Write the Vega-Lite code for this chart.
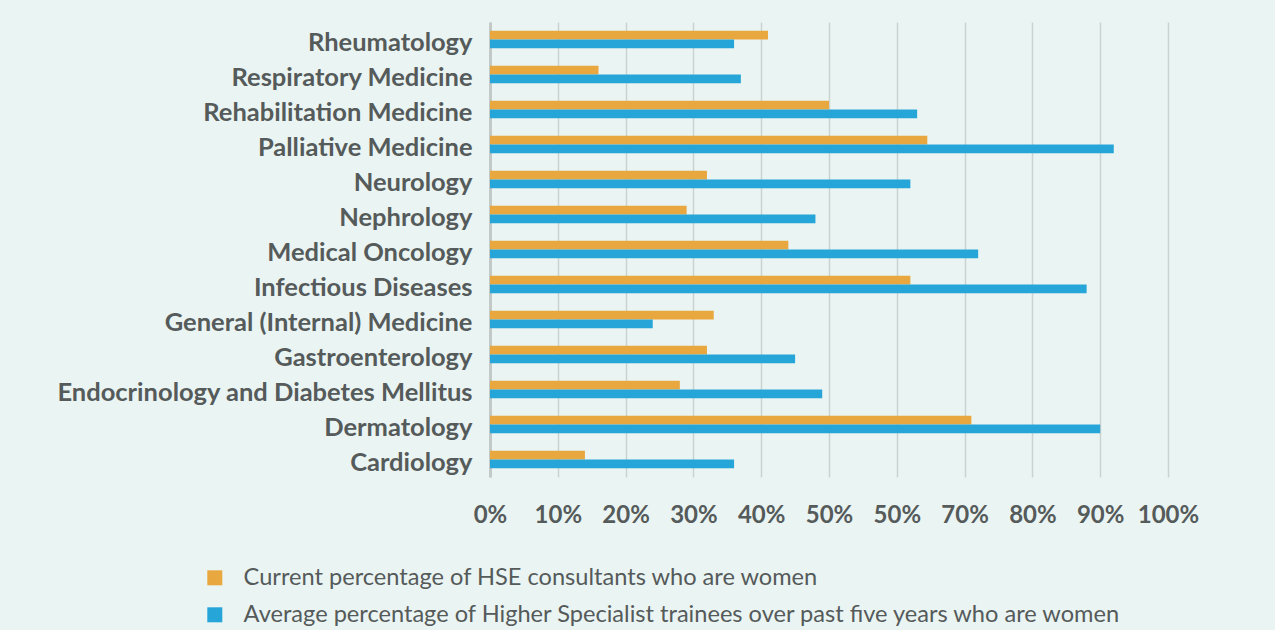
{
  "$schema": "https://vega.github.io/schema/vega-lite/v6.json",
  "width": 678,
  "height": 455,
  "autosize": {"type": "none"},
  "padding": {"left": 490, "top": 22, "right": 107, "bottom": 153},
  "background": "#EAF4F2",
  "config": {
    "view": {"stroke": null},
    "font": "Lato"
  },
  "data": {
    "values": [
      {"specialty": "Rheumatology", "series": "Current percentage of HSE consultants who are women", "value": 41},
      {"specialty": "Rheumatology", "series": "Average percentage of Higher Specialist trainees over past five years who are women", "value": 36},
      {"specialty": "Respiratory Medicine", "series": "Current percentage of HSE consultants who are women", "value": 16},
      {"specialty": "Respiratory Medicine", "series": "Average percentage of Higher Specialist trainees over past five years who are women", "value": 37},
      {"specialty": "Rehabilitation Medicine", "series": "Current percentage of HSE consultants who are women", "value": 50},
      {"specialty": "Rehabilitation Medicine", "series": "Average percentage of Higher Specialist trainees over past five years who are women", "value": 63},
      {"specialty": "Palliative Medicine", "series": "Current percentage of HSE consultants who are women", "value": 64.5},
      {"specialty": "Palliative Medicine", "series": "Average percentage of Higher Specialist trainees over past five years who are women", "value": 92},
      {"specialty": "Neurology", "series": "Current percentage of HSE consultants who are women", "value": 32},
      {"specialty": "Neurology", "series": "Average percentage of Higher Specialist trainees over past five years who are women", "value": 62},
      {"specialty": "Nephrology", "series": "Current percentage of HSE consultants who are women", "value": 29},
      {"specialty": "Nephrology", "series": "Average percentage of Higher Specialist trainees over past five years who are women", "value": 48},
      {"specialty": "Medical Oncology", "series": "Current percentage of HSE consultants who are women", "value": 44},
      {"specialty": "Medical Oncology", "series": "Average percentage of Higher Specialist trainees over past five years who are women", "value": 72},
      {"specialty": "Infectious Diseases", "series": "Current percentage of HSE consultants who are women", "value": 62},
      {"specialty": "Infectious Diseases", "series": "Average percentage of Higher Specialist trainees over past five years who are women", "value": 88},
      {"specialty": "General (Internal) Medicine", "series": "Current percentage of HSE consultants who are women", "value": 33},
      {"specialty": "General (Internal) Medicine", "series": "Average percentage of Higher Specialist trainees over past five years who are women", "value": 24},
      {"specialty": "Gastroenterology", "series": "Current percentage of HSE consultants who are women", "value": 32},
      {"specialty": "Gastroenterology", "series": "Average percentage of Higher Specialist trainees over past five years who are women", "value": 45},
      {"specialty": "Endocrinology and Diabetes Mellitus", "series": "Current percentage of HSE consultants who are women", "value": 28},
      {"specialty": "Endocrinology and Diabetes Mellitus", "series": "Average percentage of Higher Specialist trainees over past five years who are women", "value": 49},
      {"specialty": "Dermatology", "series": "Current percentage of HSE consultants who are women", "value": 71},
      {"specialty": "Dermatology", "series": "Average percentage of Higher Specialist trainees over past five years who are women", "value": 90},
      {"specialty": "Cardiology", "series": "Current percentage of HSE consultants who are women", "value": 14},
      {"specialty": "Cardiology", "series": "Average percentage of Higher Specialist trainees over past five years who are women", "value": 36}
    ]
  },
  "mark": {"type": "bar"},
  "encoding": {
    "y": {
      "field": "specialty",
      "type": "nominal",
      "sort": null,
      "scale": {"paddingInner": 0.5, "paddingOuter": 0.25},
      "axis": {
        "title": null,
        "ticks": false,
        "grid": false,
        "domain": true,
        "domainColor": "#C2C9C7",
        "domainWidth": 3,
        "labelFontSize": 25.5,
        "labelFontWeight": "bold",
        "labelColor": "#555A5A",
        "labelPadding": 18,
        "labelOffset": 3,
        "labelLimit": 500
      }
    },
    "yOffset": {
      "field": "series",
      "type": "nominal",
      "sort": [
        "Current percentage of HSE consultants who are women",
        "Average percentage of Higher Specialist trainees over past five years who are women"
      ],
      "scale": {"paddingInner": 0, "paddingOuter": 0}
    },
    "x": {
      "field": "value",
      "type": "quantitative",
      "scale": {"domain": [0, 100], "nice": false},
      "axis": {
        "title": null,
        "values": [0, 10, 20, 30, 40, 50, 60, 70, 80, 90, 100],
        "labelExpr": "datum.value == 60 ? '50%' : datum.value + '%'",
        "domain": false,
        "ticks": false,
        "grid": true,
        "gridColor": "#CBD3D1",
        "gridWidth": 1.5,
        "labelFontSize": 24,
        "labelFontWeight": "bold",
        "labelColor": "#555A5A",
        "labelPadding": 26,
        "labelFlush": false
      }
    },
    "color": {
      "field": "series",
      "type": "nominal",
      "sort": [
        "Current percentage of HSE consultants who are women",
        "Average percentage of Higher Specialist trainees over past five years who are women"
      ],
      "scale": {
        "domain": [
          "Current percentage of HSE consultants who are women",
          "Average percentage of Higher Specialist trainees over past five years who are women"
        ],
        "range": ["#E8A83F", "#26A5D8"]
      },
      "legend": {
        "title": null,
        "orient": "none",
        "legendX": -287,
        "legendY": 544,
        "symbolType": "square",
        "symbolSize": 225,
        "symbolStrokeWidth": 0,
        "labelFontSize": 23.6,
        "labelColor": "#555A5A",
        "labelLimit": 1000,
        "labelOffset": 17,
        "rowPadding": 12
      }
    }
  }
}
